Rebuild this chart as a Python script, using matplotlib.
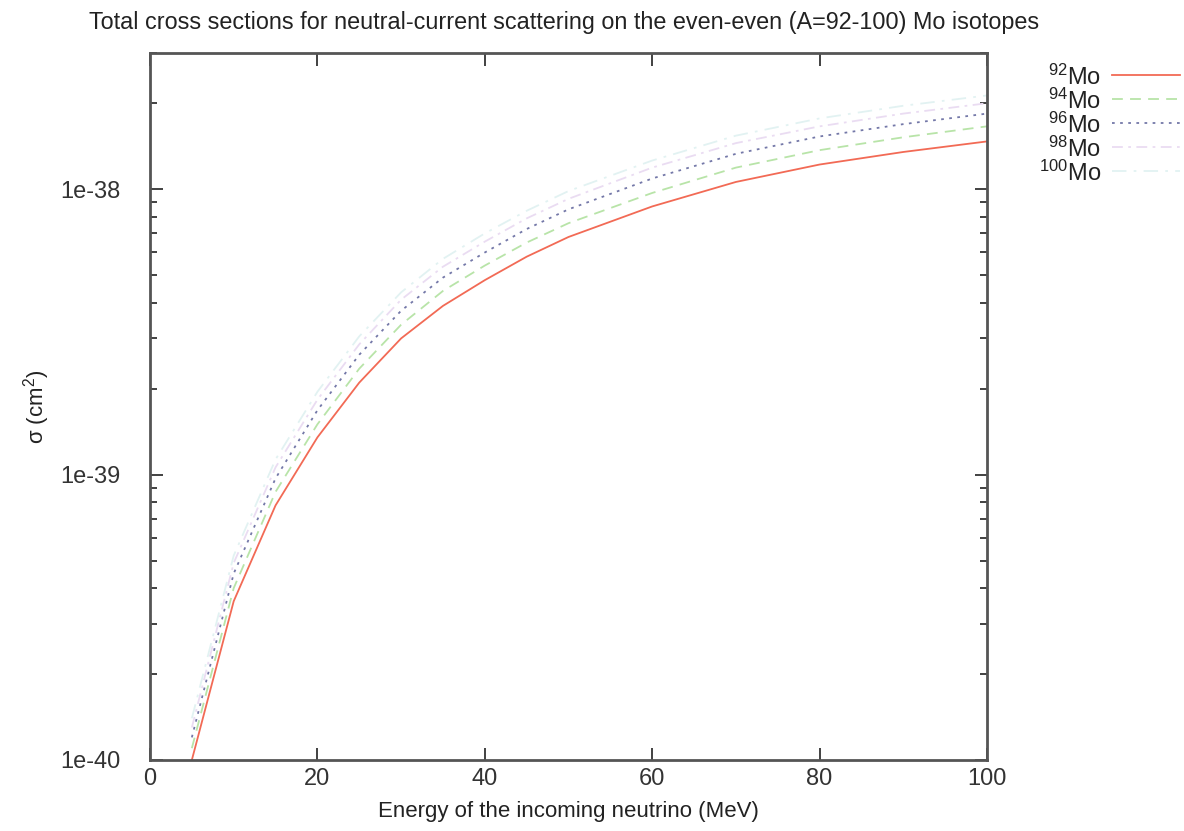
import matplotlib
matplotlib.use("Agg")
import matplotlib.pyplot as plt
from matplotlib.lines import Line2D

plt.rcParams['font.family'] = ['Liberation Sans', 'DejaVu Sans']
plt.rcParams['mathtext.fontset'] = 'custom'
plt.rcParams['mathtext.rm'] = 'Liberation Sans'
plt.rcParams['mathtext.it'] = 'Liberation Sans:italic'

energy = [5, 10, 15, 20, 25, 30, 35, 40, 45, 50, 60, 70, 80, 90, 100]
mo92 = [1.0e-40, 3.6e-40, 7.8e-40, 1.35e-39, 2.1e-39, 3.0e-39, 3.9e-39, 4.8e-39,
        5.8e-39, 6.8e-39, 8.7e-39, 1.06e-38, 1.22e-38, 1.35e-38, 1.47e-38]
mo94 = [1.1e-40, 4.0e-40, 8.7e-40, 1.5e-39, 2.35e-39, 3.35e-39, 4.4e-39, 5.4e-39,
        6.5e-39, 7.6e-39, 9.7e-39, 1.19e-38, 1.37e-38, 1.52e-38, 1.66e-38]
mo96 = [1.2e-40, 4.5e-40, 9.7e-40, 1.68e-39, 2.63e-39, 3.75e-39, 4.9e-39, 6.0e-39,
        7.25e-39, 8.5e-39, 1.09e-38, 1.33e-38, 1.53e-38, 1.69e-38, 1.84e-38]
mo98 = [1.3e-40, 4.9e-40, 1.06e-39, 1.83e-39, 2.86e-39, 4.1e-39, 5.35e-39, 6.55e-39,
        7.9e-39, 9.25e-39, 1.19e-38, 1.45e-38, 1.66e-38, 1.84e-38, 2.0e-38]
mo100 = [1.4e-40, 5.2e-40, 1.13e-39, 1.95e-39, 3.05e-39, 4.35e-39, 5.7e-39, 7.0e-39,
         8.4e-39, 9.85e-39, 1.26e-38, 1.54e-38, 1.77e-38, 1.96e-38, 2.13e-38]
labels = ['$^{92}$Mo', '$^{94}$Mo', '$^{96}$Mo', '$^{98}$Mo', '$^{100}$Mo']
series = [mo92, mo94, mo96, mo98, mo100]
colors = ['#f26a55', '#b8e4a8', '#7478a8', '#eadcf2', '#e2f2f2']
styles = ['-', (0, (6, 4)), (0, (1.5, 3)), (0, (6, 3, 1.5, 3)), (0, (8, 4, 1.5, 4))]

fig = plt.figure(figsize=(11.84, 8.31), dpi=100)
ax = fig.add_axes([150/1184, 1-760/831, (987-150)/1184, (760-53)/831])

for y, c, ls in zip(series, colors, styles):
    ax.plot(energy, y, color=c, linestyle=ls, lw=1.3)

ax.set_yscale('log')
ax.set_xlim(0, 100)
ax.set_ylim(1e-40, 3e-38)
ax.set_xticks([0, 20, 40, 60, 80, 100])
ax.set_yticks([1e-40, 1e-39, 1e-38])
ax.set_yticklabels(['1e-40', '1e-39', '1e-38'])
ax.tick_params(which='both', direction='in', top=True, right=True,
               labelsize=17, colors='#333333', width=1.3)
ax.tick_params(which='major', length=9)
ax.tick_params(axis='y', which='major', pad=21)
ax.tick_params(axis='x', which='major', pad=6)
ax.tick_params(which='minor', length=5)
for s in ax.spines.values():
    s.set_linewidth(2)
    s.set_color('#555555')

ax.set_xlabel('Energy of the incoming neutrino (MeV)', fontsize=16, color='#222222', labelpad=8)
ax.set_ylabel('σ (cm$^2$)', fontsize=16, color='#222222', labelpad=6)
fig.text(564/1184, 1-23/831, 'Total cross sections for neutral-current scattering on the even-even (A=92-100) Mo isotopes',
         ha='center', va='center', fontsize=16.8, color='#222222')

ypos = [77, 101, 125, 149, 173]
for lab, c, ls, yp in zip(labels, colors, styles, ypos):
    fig.text(1101/1184, 1-yp/831, lab, ha='right', va='center', fontsize=17, color='#222222')
    fig.add_artist(Line2D([1112/1184, 1180/1184], [1-(yp-2)/831]*2, color=c, linestyle=ls, lw=1.3))

fig.savefig('out.png', dpi=100)
